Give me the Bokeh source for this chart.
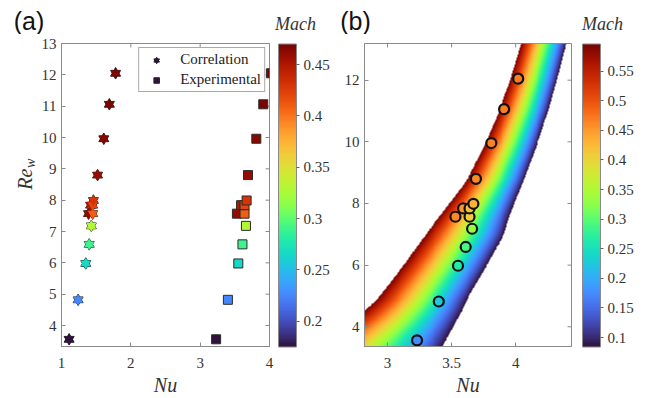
import numpy as np
from bokeh.plotting import figure
from bokeh.models import (ColumnDataSource, LinearColorMapper, ColorBar, FixedTicker,
                          Range1d, Legend, LegendItem)
from bokeh.layouts import row, column
from bokeh.palettes import Turbo256
from bokeh.transform import linear_cmap
from bokeh.core.properties import value
from bokeh.embed import file_html
from bokeh.resources import INLINE

# ---------------- data ----------------
re_w = [3.56, 4.82, 5.98, 6.59, 7.18, 7.57, 7.57, 7.84, 7.84, 7.99, 8.80, 9.96, 11.06, 12.05]
nu_corr = [1.11, 1.24, 1.35, 1.40, 1.43, 1.39, 1.45, 1.42, 1.45, 1.46, 1.52, 1.61, 1.69, 1.78]
nu_exp = [3.23, 3.40, 3.55, 3.61, 3.66, 3.53, 3.64, 3.59, 3.64, 3.67, 3.69, 3.81, 3.91, 4.02]
mach = [0.175, 0.225, 0.265, 0.29, 0.33, 0.46, 0.41, 0.45, 0.42, 0.43, 0.46, 0.465, 0.47, 0.47]

mach_range_a = [0.175, 0.47]
mach_range_b = [0.084, 0.596]

# correlation band (panel b): edges
band_re = [3.36, 4.2, 4.58, 4.87, 6.02, 7.0, 7.61, 8.2, 8.8, 9.94, 11.06, 12.03, 13.19]
band_nu_high_mach = [2.42, 2.726, 2.84, 2.915, 3.13, 3.30, 3.41, 3.52, 3.625, 3.765, 3.877, 3.96, 4.044]
band_nu_low_mach = [3.43, 3.54, 3.59, 3.62, 3.78, 3.91, 3.955, 4.01, 4.07, 4.17, 4.26, 4.325, 4.396]

xticks_a = [1, 2, 3, 4]
yticks_a = [4, 5, 6, 7, 8, 9, 10, 11, 12, 13]
cticks_a = [0.2, 0.25, 0.3, 0.35, 0.4, 0.45]
xticks_b = [3, 3.5, 4]
yticks_b = [4, 6, 8, 10, 12]
cticks_b = [0.1, 0.15, 0.2, 0.25, 0.3, 0.35, 0.4, 0.45, 0.5, 0.55]

panel_tags = ["(a)", "(b)"]
cbar_title = "Mach"
x_title = "Nu"
y_title = ["Re", "w"]

SERIF = "Liberation Serif"
AX_COL = "#8a8a8a"
TXT_COL = "#333333"


def lbl(ticks):
    return {t: ("%g" % t) for t in ticks}


def style_axes(p, xt, yt):
    p.xgrid.visible = False
    p.ygrid.visible = False
    p.outline_line_color = AX_COL
    p.background_fill_color = "white"
    p.border_fill_color = "white"
    for ax, t in ((p.below[0], xt), (p.left[0], yt)):
        ax.ticker = FixedTicker(ticks=t)
        ax.major_label_overrides = lbl(t)
        ax.axis_line_color = AX_COL
        ax.major_tick_line_color = AX_COL
        ax.major_tick_in = 4
        ax.major_tick_out = 0
        ax.minor_tick_line_color = None
        ax.major_label_text_font = SERIF
        ax.major_label_text_font_size = "15px"
        ax.major_label_text_color = TXT_COL
    xa = p.below[0]
    xa.major_label_standoff = 11
    xa.axis_label = x_title
    xa.axis_label_text_font = SERIF
    xa.axis_label_text_font_style = "italic"
    xa.axis_label_text_font_size = "20px"
    xa.axis_label_text_color = TXT_COL
    xa.axis_label_standoff = 3
    p.left[0].major_label_standoff = 5
    # ticks on the opposite (top / right) sides of the box
    x1 = p.x_range.end
    y1 = p.y_range.end
    p.scatter(x=xt, y=[y1] * len(xt), marker="dash", angle=np.pi / 2, size=8,
              line_color=AX_COL, line_width=1)
    p.scatter(x=[x1] * len(yt), y=yt, marker="dash", size=8,
              line_color=AX_COL, line_width=1)


def colorbar(mapper, ticks, pad):
    return ColorBar(color_mapper=mapper, ticker=FixedTicker(ticks=ticks),
                    major_label_overrides=lbl(ticks), width=18, height=303,
                    location="center_left", padding=pad, margin=0,
                    bar_line_color=AX_COL, major_tick_line_color="#666666",
                    major_tick_in=0, major_tick_out=3, minor_tick_line_color=None,
                    label_standoff=4, major_label_text_font=SERIF,
                    major_label_text_font_size="15px", major_label_text_color=TXT_COL,
                    background_fill_color=None, border_line_color=None)


def blank(w, h, xr, yr):
    f = figure(width=w, height=h, x_range=xr, y_range=yr, output_backend="svg",
               toolbar_location=None, x_axis_location=None, y_axis_location=None,
               min_border_left=0, min_border_right=0, min_border_top=0, min_border_bottom=0)
    f.xgrid.visible = False
    f.ygrid.visible = False
    f.outline_line_color = None
    f.background_fill_color = "white"
    f.border_fill_color = "white"
    return f


# ---------------- header with panel tags and colour-bar titles ----------------
HDR_H = 34
hdr = blank(648, HDR_H, Range1d(0, 648), Range1d(HDR_H, 0))
hdr.text(x=[28.5, 355], y=[20, 20], text=panel_tags, text_font=value("Liberation Sans"),
         text_font_size="25px", text_color="#111111", text_align="center",
         text_baseline="middle")
hdr.text(x=[295, 602], y=[23.8, 23.8], text=[cbar_title, cbar_title], text_font=value(SERIF),
         text_font_style="italic", text_font_size="18px", text_color=TXT_COL,
         text_align="center", text_baseline="middle")

# ---------------- y title column ----------------
ylab = blank(38, 364, Range1d(0, 38), Range1d(0, 364))
ylab.text(x=[24], y=[201], text=[y_title[0]], angle=np.pi / 2, text_font=value(SERIF),
          text_font_style="italic", text_font_size="20px", text_color=TXT_COL,
          text_align="center", text_baseline="middle")
ylab.text(x=[29.5], y=[220], text=[y_title[1]], angle=np.pi / 2, text_font=value(SERIF),
          text_font_style="italic", text_font_size="14px", text_color=TXT_COL,
          text_align="center", text_baseline="middle")

# ---------------- panel (a) ----------------
pa = figure(width=303, height=364, x_range=Range1d(1, 4), y_range=Range1d(3.33, 13),
            output_backend="svg", toolbar_location=None,
            min_border_left=21, min_border_right=71, min_border_top=9, min_border_bottom=52)
style_axes(pa, xticks_a, yticks_a)

src = ColumnDataSource(dict(nu_corr=nu_corr, nu_exp=nu_exp, re=re_w, mach=mach))
cmap_a = linear_cmap("mach", Turbo256, mach_range_a[0], mach_range_a[1])

star = []
for mk, ln in (("triangle", "#2a2a2a"), ("inverted_triangle", "#2a2a2a"),
               ("triangle", None), ("inverted_triangle", None)):
    star.append(pa.scatter("nu_corr", "re", source=src, marker=mk, size=10,
                           fill_color=cmap_a, line_color=ln, line_width=1))
sq = pa.scatter("nu_exp", "re", source=src, marker="square", size=9, fill_color=cmap_a,
                line_color="#2a2a2a", line_width=1)

legend = Legend(items=[LegendItem(label="Correlation", renderers=star, index=0),
                       LegendItem(label="Experimental", renderers=[sq], index=0)],
                location="top_right", margin=4, padding=3, spacing=3,
                glyph_width=28, glyph_height=14, label_height=14, label_standoff=10,
                label_text_font=SERIF, label_text_font_size="15px", label_text_color="#222222",
                border_line_color="#555555", border_line_width=1, background_fill_alpha=1)
pa.add_layout(legend)

mapper_a = LinearColorMapper(palette=Turbo256, low=mach_range_a[0], high=mach_range_a[1])
pa.add_layout(colorbar(mapper_a, cticks_a, 9), "right")

# ---------------- panel (b) ----------------
xb0, xb1 = 2.82, 4.436
yb0, yb1 = 3.36, 13.19
pb = figure(width=306, height=364, x_range=Range1d(xb0, xb1), y_range=Range1d(yb0, yb1),
            output_backend="svg", toolbar_location=None,
            min_border_left=23, min_border_right=76, min_border_top=9, min_border_bottom=52)

mapper_b = LinearColorMapper(palette=Turbo256, low=mach_range_b[0], high=mach_range_b[1],
                             nan_color="rgba(0,0,0,0)")
nx, ny = 420, 420
xs = np.linspace(xb0, xb1, nx)
ys = np.linspace(yb0, yb1, ny)
left = np.interp(ys, band_re, band_nu_high_mach)
right = np.interp(ys, band_re, band_nu_low_mach)
frac = (xs[None, :] - left[:, None]) / (right - left)[:, None]
field = mach_range_b[1] - frac * (mach_range_b[1] - mach_range_b[0])
field[(frac < 0) | (frac > 1)] = np.nan
pb.image(image=[field], x=xb0, y=yb0, dw=xb1 - xb0, dh=yb1 - yb0, color_mapper=mapper_b)
style_axes(pb, xticks_b, yticks_b)

cmap_b = linear_cmap("mach", Turbo256, mach_range_b[0], mach_range_b[1])
pb.scatter("nu_exp", "re", source=src, marker="circle", size=10, fill_color=cmap_b,
           line_color="#111111", line_width=2.2)

pb.add_layout(colorbar(mapper_b, cticks_b, 11), "right")

layout = column(hdr, row(ylab, pa, pb))
open("out.html", "w").write(file_html(layout, INLINE))
